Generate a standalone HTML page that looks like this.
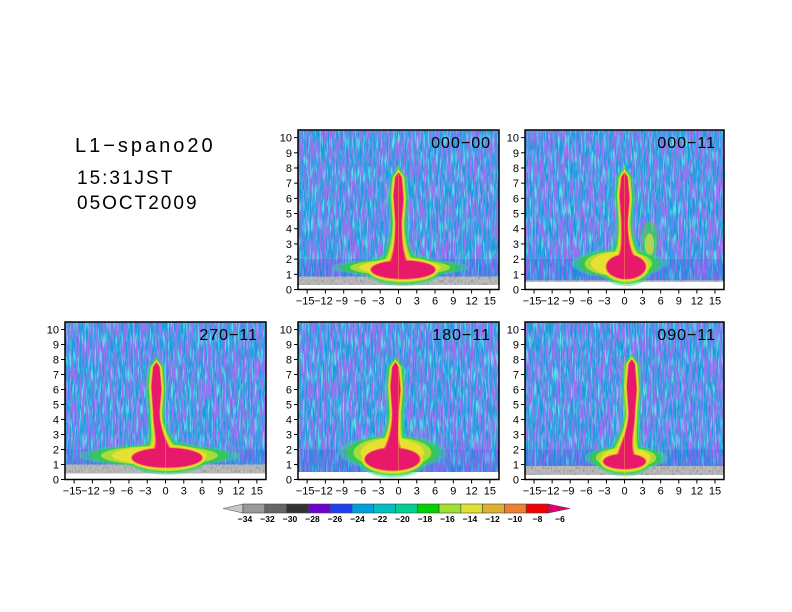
<!DOCTYPE html>
<html><head><meta charset="utf-8"><style>
html,body{margin:0;padding:0;background:#fff;}
svg{display:block;font-family:"Liberation Sans",sans-serif;}
</style></head><body>
<svg id="s" width="792" height="612" viewBox="0 0 792 612" xmlns="http://www.w3.org/2000/svg">
<defs>
<filter id="nz" x="0" y="0" width="100%" height="100%">
<feTurbulence type="fractalNoise" baseFrequency="0.7 0.05" numOctaves="2" seed="3" result="t"/>
<feColorMatrix in="t" type="matrix" values="0 0 0 0 0.35  0 0 0 0 0.15  0 0 0 0 0.9  4 0 0 0 -1.7" result="p"/>
<feTurbulence type="fractalNoise" baseFrequency="0.6 0.06" numOctaves="2" seed="11" result="t2"/>
<feColorMatrix in="t2" type="matrix" values="0 0 0 0 0.1  0 0 0 0 0.8  0 0 0 0 0.8  4 0 0 0 -2.0" result="g"/>
<feMerge><feMergeNode in="SourceGraphic"/><feMergeNode in="g"/><feMergeNode in="p"/></feMerge>
</filter>
<filter id="gz" x="0" y="0" width="100%" height="100%">
<feTurbulence type="fractalNoise" baseFrequency="0.8 0.3" numOctaves="1" seed="5" result="t"/>
<feColorMatrix in="t" type="matrix" values="0 0 0 0 0.3  0 0 0 0 0.3  0 0 0 0 0.3  3 0 0 0 -1.3" result="p"/>
<feMerge><feMergeNode in="SourceGraphic"/><feMergeNode in="p"/></feMerge>
</filter>
</defs>
<text x="75" y="152" font-size="20" letter-spacing="3">L1−spano20</text>
<text x="77" y="184" font-size="19" letter-spacing="2">15:31JST</text>
<text x="77" y="209" font-size="19" letter-spacing="2">05OCT2009</text>
<g id="panels"></g>
<g id="cb"></g>
</svg>
<script>
var NS="http://www.w3.org/2000/svg";
function el(p,t,a,txt){var e=document.createElementNS(NS,t);for(var k in a)e.setAttribute(k,a[k]);if(txt!=null)e.textContent=txt;p.appendChild(e);return e;}
var P=document.getElementById('panels');
var panels=[
 {L:298,R:499,T:130,B:289.5,lab:"000−00",cx:0,top:7.7,base:[-4.5,6,0.7,1.9],halo:[-10,10.5,0.9,2.0],gray:[0.3,0.85],white:0.3,br:null,lean:0},
 {L:525,R:724,T:130,B:289.5,lab:"000−11",cx:0,top:7.7,base:[-3,3.5,0.7,2.3],halo:[-8,6,0.8,2.6],gray:[0.5,0.6],white:0.5,br:[2.8,5.5,2.0,4.5],lean:0.3},
 {L:65,R:266,T:322,B:479.5,lab:"270−11",cx:-1.5,top:7.8,base:[-5.5,6,0.8,2.1],halo:[-13,11,0.9,2.3],gray:[0.4,1.0],white:0.4,br:null,lean:1.0},
 {L:298,R:499,T:322,B:479.5,lab:"180−11",cx:-0.5,top:7.8,base:[-5.5,3.5,0.6,2.1],halo:[-9,7,0.7,2.9],gray:[0.5,0.5],white:0.5,br:null,lean:-0.5},
 {L:525,R:724,T:322,B:479.5,lab:"090−11",cx:1.2,top:8.0,base:[-3.5,3.5,0.7,1.7],halo:[-6,6.5,0.7,2.2],gray:[0.3,0.9],white:0.3,br:null,lean:-1.0}
];
panels.forEach(function(p,i){
 var sx=(p.R-p.L)/33, sy=(p.B-p.T)/10.5;
 function X(v){return p.L+(v+16.5)*sx;} function Y(v){return p.B-v*sy;}
 var g=el(P,'g',{});
 var cid='c'+i;
 var cp=el(g,'clipPath',{id:cid}); el(cp,'rect',{x:p.L,y:p.T,width:p.R-p.L,height:p.B-p.T});
 var gg=el(g,'g',{'clip-path':'url(#'+cid+')'});
 el(gg,'rect',{x:p.L,y:p.T,width:p.R-p.L,height:p.B-p.T,fill:'#1c9ade',filter:'url(#nz)'});
 el(gg,'rect',{x:p.L,y:Y(2.0),width:p.R-p.L,height:(2.0-p.gray[1])*sy,fill:'#3a40e0',opacity:0.2});
 el(gg,'rect',{x:p.L,y:Y(p.gray[1]),width:p.R-p.L,height:(p.gray[1]-p.white)*sy,fill:'#bdbdbd',filter:'url(#gz)'});
 el(gg,'rect',{x:p.L,y:Y(p.white),width:p.R-p.L,height:p.white*sy+1,fill:'#fff'});
 var cx=p.cx;
 if(p.br){var r=p.br;
  el(gg,'ellipse',{cx:X((r[0]+r[1])/2),cy:Y((r[2]+r[3])/2),rx:((r[1]-r[0])/2)*sx,ry:((r[3]-r[2])/2)*sy,fill:'#40d050',opacity:0.7});
  el(gg,'ellipse',{cx:X((r[0]+r[1])/2),cy:Y((r[2]+r[3])/2-0.3),rx:((r[1]-r[0])/2-0.6)*sx,ry:((r[3]-r[2])/2-0.5)*sy,fill:'#e0e040',opacity:0.7});}
 function blob(col,pad,op,hs){
  var b=p.base,h=p.halo;
  if(hs>0){var hcx=(h[0]+h[1])/2,hcy=(h[2]+h[3])/2;
   el(gg,'ellipse',{cx:X(hcx),cy:Y(hcy),rx:((h[1]-h[0])/2*hs)*sx,ry:((h[3]-h[2])/2*(0.6+0.4*hs))*sy,fill:col,opacity:op});}
  el(gg,'ellipse',{cx:X((b[0]+b[1])/2),cy:Y((b[2]+b[3])/2),rx:((b[1]-b[0])/2+pad*0.8)*sx,ry:((b[3]-b[2])/2+pad*0.3)*sy,fill:col,opacity:op});
  var w=0.5+pad*0.6, lb=cx+p.lean;
  var d='M'+X(lb-1.4-pad*1.5)+','+Y(b[3]-0.2)+' C'+X(lb-0.6-pad)+','+Y(2.5)+' '+X(cx-w)+','+Y(3.4)+' '+X(cx-w)+','+Y(4.5)
   +' L'+X(cx-w-0.3)+','+Y(6.2)+' L'+X(cx-w)+','+Y(p.top-0.3)+' L'+X(cx)+','+Y(p.top+pad*0.3)+' L'+X(cx+w)+','+Y(p.top-0.3)
   +' L'+X(cx+w+0.3)+','+Y(6.0)+' L'+X(cx+w)+','+Y(4.5)+' C'+X(cx+w)+','+Y(3.4)+' '+X(lb+0.6+pad)+','+Y(2.5)+' '+X(lb+1.4+pad*1.5)+','+Y(b[3]-0.2)+' Z';
  el(gg,'path',{d:d,fill:col,opacity:op});
 }
 blob('#2fd890',1.6,0.5,1.1);
 blob('#30d030',1.1,0.7,0.95);
 blob('#c8e030',0.8,0.8,0.8);
 blob('#ece030',0.5,0.9,0.65);
 blob('#f08040',0.2,0.9,0);
 blob('#e8186a',0,1,0);
 el(gg,'line',{x1:X(0),y1:Y(8.2),x2:X(0),y2:p.B,stroke:'#f0f030','stroke-width':0.6,opacity:0.5});
 el(g,'rect',{x:p.L,y:p.T,width:p.R-p.L,height:p.B-p.T,fill:'none',stroke:'#000','stroke-width':1.5});
 for(var v=0;v<=10;v++){el(g,'line',{x1:p.L-4,y1:Y(v),x2:p.L,y2:Y(v),stroke:'#000'});el(g,'text',{x:p.L-6,y:Y(v)+4,'font-size':11,'text-anchor':'end'},String(v));}
 for(var v=-15;v<=15;v+=3){el(g,'line',{x1:X(v),y1:p.B,x2:X(v),y2:p.B+4,stroke:'#000'});el(g,'text',{x:X(v)+(v<0?-2:0),y:p.B+15,'font-size':11,'text-anchor':'middle'},(v<0?'−':'')+Math.abs(v));}
 el(g,'text',{x:p.R-8,y:p.T+18,'font-size':16,'text-anchor':'end','letter-spacing':1},p.lab);
});
var C=document.getElementById('cb');
var cols=['#999999','#666666','#333333','#7000d0','#2040f0','#00a0e0','#00c0c0','#00d090','#00d000','#a0e030','#e0e030','#e0b030','#f08030','#f00000'];
el(C,'polygon',{points:'223,508.5 243,504 243,513',fill:'#c8c8c8',stroke:'#555','stroke-width':0.6});
var w=(548-243)/14;
cols.forEach(function(c,k){el(C,'rect',{x:243+k*w,y:504,width:w,height:9,fill:c,stroke:'#444','stroke-width':0.6});});
el(C,'polygon',{points:'548,504 570,508.5 548,513',fill:'#e0006a',stroke:'#444','stroke-width':0.6});
for(var k=0;k<=14;k++){el(C,'text',{x:245+k*22.5,y:522,'font-size':8.5,'font-weight':'bold','text-anchor':'middle'},'−'+(34-2*k));}
</script>
</body></html>
